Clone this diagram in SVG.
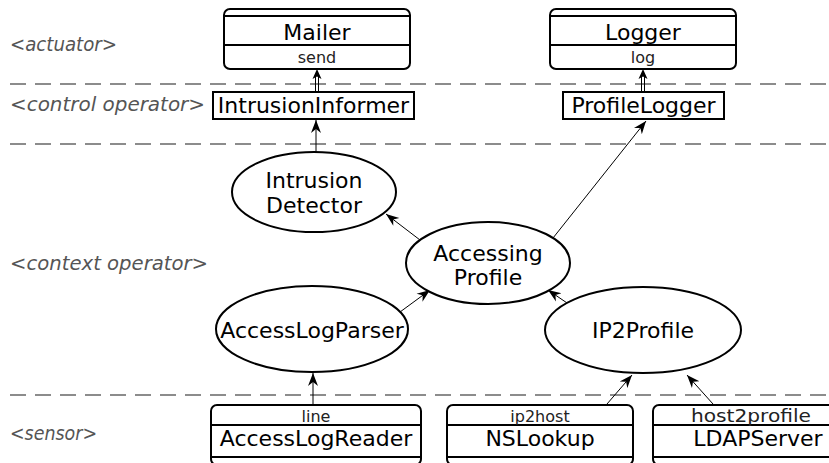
<svg xmlns="http://www.w3.org/2000/svg" width="829" height="463" viewBox="0 0 829 463">
<defs>
<style>
.lane{stroke:#8c8c8c;stroke-width:2;stroke-dasharray:16 9;fill:none}
.lbl{font-family:"DejaVu Sans",sans-serif;font-style:italic;font-size:19px;fill:#555}
.box{fill:#fff;stroke:#000;stroke-width:2}
.sep{stroke:#000;stroke-width:2}
.nm{font-family:"DejaVu Sans",sans-serif;font-size:22px;fill:#000;text-anchor:middle}
.sm{font-family:"DejaVu Sans",sans-serif;font-size:16px;fill:#222;text-anchor:middle}
.ell{fill:#fff;stroke:#000;stroke-width:2}
.edge{stroke:#000;stroke-width:1;fill:none;marker-end:url(#ah)}
.dbl{stroke:#000;stroke-width:1;fill:none}
</style>
<marker id="ah" markerUnits="userSpaceOnUse" markerWidth="14" markerHeight="12" refX="13" refY="6" orient="auto">
<path d="M0,1 L13,6 L0,11 L4,6 Z" fill="#000"/>
</marker>
</defs>
<rect width="829" height="463" fill="#fff"/>
<g id="lanes">
<line class="lane" x1="10" y1="84" x2="829" y2="84"/>
<line class="lane" x1="10" y1="144" x2="829" y2="144"/>
<line class="lane" x1="10" y1="395" x2="829" y2="395"/>
<text class="lbl" x="10" y="51" textLength="107" lengthAdjust="spacingAndGlyphs">&lt;actuator&gt;</text>
<text class="lbl" x="10" y="111" textLength="195" lengthAdjust="spacingAndGlyphs">&lt;control operator&gt;</text>
<text class="lbl" x="10" y="270" textLength="198" lengthAdjust="spacingAndGlyphs">&lt;context operator&gt;</text>
<text class="lbl" x="10" y="440" textLength="87" lengthAdjust="spacingAndGlyphs">&lt;sensor&gt;</text>
</g>
<g id="connectors">
<line class="edge" x1="316" y1="152" x2="316" y2="120"/>
<line class="edge" x1="420" y1="240" x2="386" y2="214"/>
<line class="edge" x1="553" y1="238" x2="646" y2="121"/>
<line class="edge" x1="400" y1="312" x2="430" y2="290"/>
<line class="edge" x1="570" y1="305" x2="548" y2="290"/>
<line class="edge" x1="313" y1="405" x2="313" y2="373"/>
<line class="edge" x1="607" y1="404" x2="632" y2="375"/>
<line class="edge" x1="713" y1="404" x2="687" y2="375"/>
<path class="dbl" d="M315.5,92 V77 M318.5,92 V77"/>
<path d="M317,69 L321.5,79 L317,76.5 L312.5,79 Z" fill="#000"/>
<path class="dbl" d="M641.5,92 V77 M644.5,92 V77"/>
<path d="M643,69 L647.5,79 L643,76.5 L638.5,79 Z" fill="#000"/>
</g>
<g id="Mailer">
<rect class="box" x="224" y="9" width="186" height="60" rx="6"/>
<line class="sep" x1="224" y1="16" x2="410" y2="16"/>
<line class="sep" x1="224" y1="45" x2="410" y2="45"/>
<text class="nm" x="317" y="40">Mailer</text>
<text class="sm" x="317" y="63">send</text>
</g>
<g id="Logger">
<rect class="box" x="550" y="9" width="186" height="60" rx="6"/>
<line class="sep" x1="550" y1="16" x2="736" y2="16"/>
<line class="sep" x1="550" y1="45" x2="736" y2="45"/>
<text class="nm" x="643" y="40">Logger</text>
<text class="sm" x="643" y="63">log</text>
</g>
<g id="IntrusionInformer">
<rect class="box" x="213" y="92" width="201" height="27"/>
<text class="nm" x="313.5" y="113">IntrusionInformer</text>
</g>
<g id="ProfileLogger">
<rect class="box" x="563" y="92" width="161" height="27"/>
<text class="nm" x="643.5" y="113">ProfileLogger</text>
</g>
<g id="IntrusionDetector">
<ellipse class="ell" cx="314" cy="192" rx="82" ry="40"/>
<text class="nm" x="314" y="188">Intrusion</text>
<text class="nm" x="314" y="213">Detector</text>
</g>
<g id="AccessingProfile">
<ellipse class="ell" cx="488" cy="263" rx="82" ry="41"/>
<text class="nm" x="488" y="261">Accessing</text>
<text class="nm" x="488" y="285">Profile</text>
</g>
<g id="AccessLogParser">
<ellipse class="ell" cx="312" cy="329" rx="96" ry="43"/>
<text class="nm" x="312" y="338">AccessLogParser</text>
</g>
<g id="IP2Profile">
<ellipse class="ell" cx="643" cy="330" rx="98" ry="43"/>
<text class="nm" x="643" y="338">IP2Profile</text>
</g>
<g id="AccessLogReader">
<rect class="box" x="211" y="405" width="210" height="60" rx="6"/>
<line class="sep" x1="211" y1="425" x2="421" y2="425"/>
<line class="sep" x1="211" y1="457" x2="421" y2="457"/>
<text class="sm" x="316" y="422">line</text>
<text class="nm" x="316" y="446">AccessLogReader</text>
</g>
<g id="NSLookup">
<rect class="box" x="447" y="405" width="186" height="60" rx="6"/>
<line class="sep" x1="447" y1="425" x2="633" y2="425"/>
<line class="sep" x1="447" y1="457" x2="633" y2="457"/>
<text class="sm" x="540" y="422">ip2host</text>
<text class="nm" x="540" y="446">NSLookup</text>
</g>
<g id="LDAPServer">
<rect class="box" x="653" y="405" width="210" height="60" rx="6"/>
<line class="sep" x1="653" y1="425" x2="863" y2="425"/>
<line class="sep" x1="653" y1="457" x2="863" y2="457"/>
<text class="sm" x="751" y="422" style="font-size:17px" textLength="120" lengthAdjust="spacingAndGlyphs">host2profile</text>
<text class="nm" x="758" y="446">LDAPServer</text>
</g>
</svg>
